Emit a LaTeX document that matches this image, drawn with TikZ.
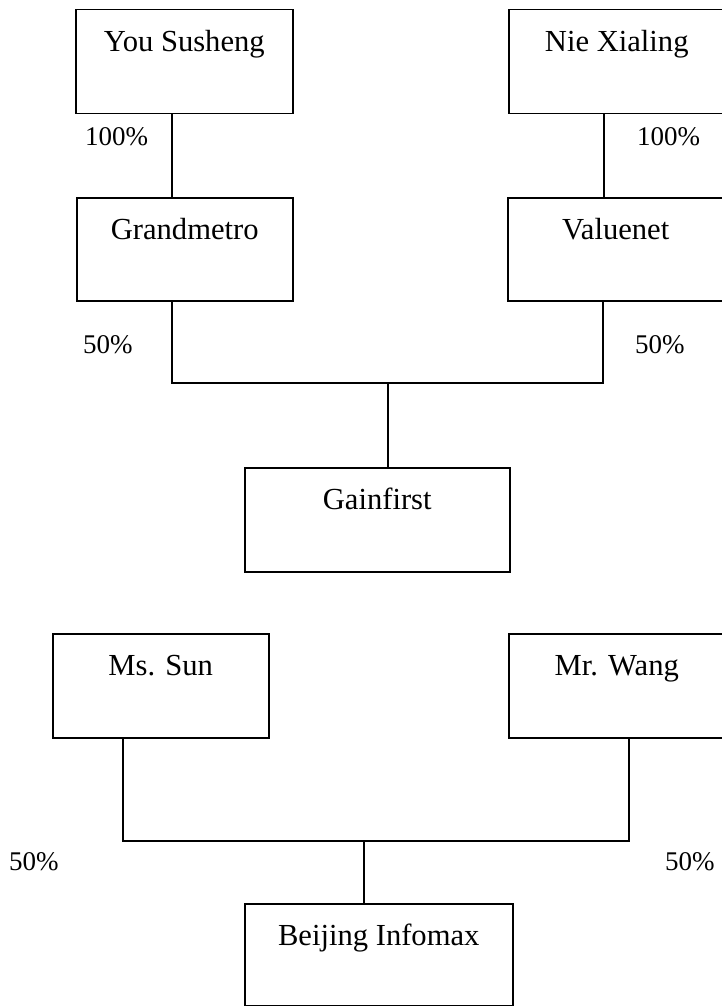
\documentclass[tikz,border=0pt]{standalone}
\usepackage{fontspec}
\setmainfont{Liberation Serif}
\begin{document}
\begin{tikzpicture}[x=1pt,y=-1pt,
  box/.style={draw=black,line width=1.5pt,inner sep=0pt,anchor=north west,
    font=\fontsize{30.6}{36}\selectfont,align=center,
    text height=42pt,text depth=62pt},
  pct/.style={font=\fontsize{27}{32}\selectfont,inner sep=0pt,anchor=base west},
  conn/.style={draw=black,line width=1.5pt}]
\useasboundingbox (0,0) rectangle (722,1006);
\clip (0,0) rectangle (722,1006);
% top group
\node[box,minimum width=217pt] (ys) at (75,9) {You Susheng};
\node[box,minimum width=216pt] (nx) at (508,9) {Nie Xialing};
\node[box,minimum width=216pt,text depth=61pt] (gm) at (76,197) {Grandmetro};
\node[box,minimum width=216pt,text depth=61pt] (vn) at (507,197) {Valuenet};
\node[box,minimum width=265pt] (gf) at (244,467) {Gainfirst};
% bottom group
\node[box,minimum width=216pt] (ms) at (52,633) {Ms. Sun};
\node[box,minimum width=216pt] (mw) at (508,633) {Mr. Wang};
\node[box,minimum width=268pt,text depth=60pt] (bi) at (244,903) {Beijing Infomax};
% labels
\node[pct] (l1) at (85,146) {100\%};
\node[pct] (l2) at (637,146) {100\%};
\node[pct] (l3) at (83,353) {50\%};
\node[pct] (l4) at (635,353) {50\%};
\node[pct] (l5) at (9,870) {50\%};
\node[pct] (l6) at (665,870) {50\%};
% connectors
\coordinate (j1) at (388,383);
\coordinate (j2) at (364,841);
\draw[conn] ([xshift=97pt]ys.south west) -- ([xshift=96pt]gm.north west);
\draw[conn] ([xshift=96pt]nx.south west) -- ([xshift=97pt]vn.north west);
\draw[conn] ([xshift=96pt]gm.south west) |- (j1) -| ([xshift=96pt]vn.south west);
\draw[conn] (j1) -- ([xshift=144pt]gf.north west);
\draw[conn] ([xshift=71pt]ms.south west) |- (j2) -| ([xshift=121pt]mw.south west);
\draw[conn] (j2) -- ([xshift=120pt]bi.north west);
\end{tikzpicture}
\end{document}
